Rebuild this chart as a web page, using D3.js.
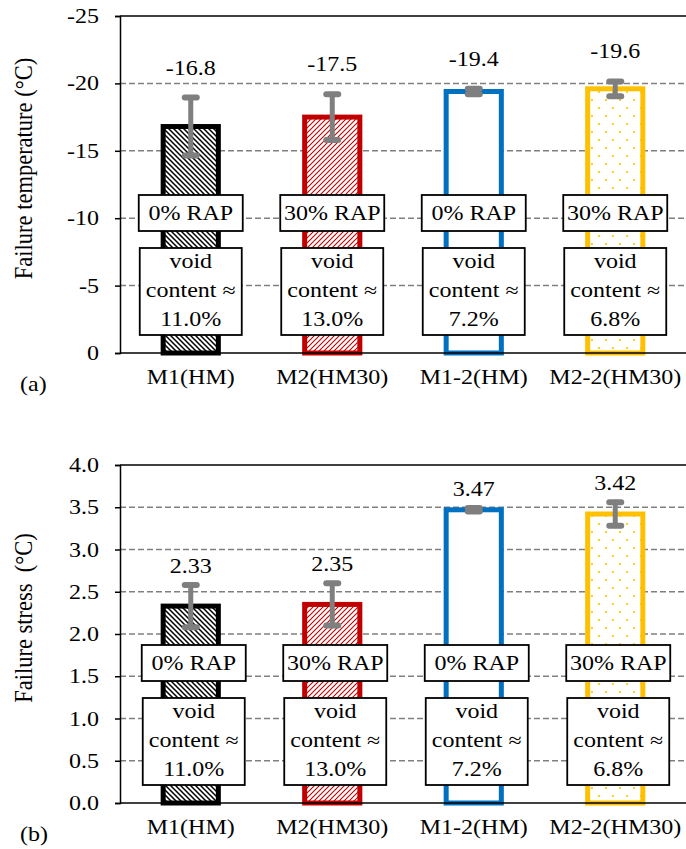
<!DOCTYPE html>
<html>
<head>
<meta charset="utf-8">
<script src="https://cdn.jsdelivr.net/npm/d3@7"></script>
<style>
  body { margin: 0; background: #fff; }
  text { font-family: "Liberation Serif", "Times New Roman", serif; fill: #000; }
</style>
</head>
<body>
<script>
// mixtures and their results
var categories = ["M1(HM)", "M2(HM30)", "M1-2(HM)", "M2-2(HM30)"];
var tempValues = [-16.8, -17.5, -19.4, -19.6];
var tempErrors = [2.15, 1.7, 0.2, 0.55];
var stressValues = [2.33, 2.35, 3.47, 3.42];
var stressErrors = [0.25, 0.25, 0.02, 0.14];
var rapLabels = ["0% RAP", "30% RAP", "0% RAP", "30% RAP"];
var voidLabels = ["11.0%", "13.0%", "7.2%", "6.8%"];
var tempTicks = [0, -5, -10, -15, -20, -25];
var stressTicks = [0, 0.5, 1.0, 1.5, 2.0, 2.5, 3.0, 3.5, 4.0];

var W = 686, H = 849;
var SX = 1.2; // the picture is stretched sideways a bit
var strokes = ["#000000", "#c00000", "#0070c0", "#ffc000"];
var fills = ["url(#hatchBlack)", "url(#hatchRed)", "#ffffff", "url(#dotsYellow)"];

var svg = d3.select("body").append("svg")
    .attr("width", W)
    .attr("height", H);

// fill patterns
var defs = svg.append("defs");
var p1 = defs.append("pattern").attr("id", "hatchBlack")
    .attr("patternUnits", "userSpaceOnUse").attr("width", 5).attr("height", 5);
p1.append("rect").attr("width", 5).attr("height", 5).attr("fill", "#fff");
p1.append("path").attr("d", "M-1,-1 L6,6 M-1,4 L1,6 M4,-1 L6,1")
    .attr("stroke", "#000").attr("stroke-width", 1.5);
var p2 = defs.append("pattern").attr("id", "hatchRed")
    .attr("patternUnits", "userSpaceOnUse").attr("width", 5).attr("height", 5);
p2.append("rect").attr("width", 5).attr("height", 5).attr("fill", "#fff");
p2.append("path").attr("d", "M-1,6 L6,-1 M-1,1 L1,-1 M4,6 L6,4")
    .attr("stroke", "#c00000").attr("stroke-width", 1.1);
var p3 = defs.append("pattern").attr("id", "dotsYellow")
    .attr("patternUnits", "userSpaceOnUse").attr("width", 14).attr("height", 16);
p3.append("rect").attr("width", 14).attr("height", 16).attr("fill", "#fff");
p3.append("circle").attr("cx", 4).attr("cy", 4).attr("r", 1.1).attr("fill", "#ffc000");
p3.append("circle").attr("cx", 11).attr("cy", 12).attr("r", 1.1).attr("fill", "#ffc000");

function addText(g, x, y, str, anchor, size) {
  return g.append("text")
      .attr("transform", "translate(" + x + "," + y + ") scale(" + SX + ",1)")
      .attr("text-anchor", anchor)
      .attr("font-size", size)
      .attr("xml:space", "preserve")
      .text(str);
}

// d3.format gives a unicode minus, the figure uses a plain hyphen
function fmt(spec) {
  var f = d3.format(spec);
  return function(v) { return f(v).replace("\u2212", "-"); };
}

var left = 120, right = 686;
var x = d3.scaleBand().domain(categories).range([left, right]).paddingInner(0.61).paddingOuter(0.305);

function drawPanel(opts) {
  var g = svg.append("g");
  var y = d3.scaleLinear().domain(opts.domain).range([opts.bottom, opts.top]);
  var base = y(0);

  // dashed grid
  g.selectAll(".grid").data(opts.ticks.slice(1, -1)).enter().append("line")
      .attr("x1", left).attr("x2", W)
      .attr("y1", function(d) { return y(d); }).attr("y2", function(d) { return y(d); })
      .attr("stroke", "#808080").attr("stroke-width", 1.5).attr("stroke-dasharray", "6,3");

  // top border line
  g.append("line").attr("x1", left).attr("x2", W)
      .attr("y1", y(opts.domain[1])).attr("y2", y(opts.domain[1]))
      .attr("stroke", "#000").attr("stroke-width", 1.5);

  // y axis
  var axis = d3.axisLeft(y).tickValues(opts.ticks).tickSize(5).tickFormat("");
  var ag = g.append("g").attr("transform", "translate(" + left + ",0)").call(axis);
  ag.select(".domain").attr("stroke", "#000").attr("stroke-width", 1.5);
  ag.selectAll(".tick line").attr("stroke", "#000").attr("stroke-width", 1.5);
  opts.ticks.forEach(function(t) {
    addText(g, left - 21, y(t) + 7, opts.tickFmt(t), "end", 20);
  });

  // bars
  var bw = x.bandwidth();
  g.selectAll(".bar").data(opts.values).enter().append("rect")
      .attr("x", function(d, i) { return x(categories[i]); })
      .attr("y", function(d) { return Math.min(y(d), base); })
      .attr("width", bw)
      .attr("height", function(d) { return Math.abs(base - y(d)); })
      .attr("fill", function(d, i) { return fills[i]; })
      .attr("stroke", function(d, i) { return strokes[i]; })
      .attr("stroke-width", 5);

  // x axis line at zero
  g.append("line").attr("x1", left).attr("x2", W).attr("y1", base).attr("y2", base)
      .attr("stroke", "#000").attr("stroke-width", 1.5);

  // error bars
  opts.values.forEach(function(v, i) {
    var cx = x(categories[i]) + bw / 2;
    var sign = v < 0 ? -1 : 1;
    var hi = y(v + sign * opts.errors[i]), lo = y(v - sign * opts.errors[i]);
    var eg = g.append("g").attr("stroke", "#7f7f7f").attr("stroke-linecap", "round");
    eg.append("line").attr("x1", cx).attr("x2", cx).attr("y1", hi).attr("y2", lo).attr("stroke-width", 5);
    eg.append("line").attr("x1", cx - 6).attr("x2", cx + 6).attr("y1", hi).attr("y2", hi).attr("stroke-width", 6);
    eg.append("line").attr("x1", cx - 6).attr("x2", cx + 6).attr("y1", lo).attr("y2", lo).attr("stroke-width", 6);
    addText(g, cx, hi - opts.labelGap, opts.valueFmt(v), "middle", 20);
  });

  // annotation boxes
  opts.values.forEach(function(v, i) {
    var cx = x(categories[i]) + bw / 2 + opts.boxShift;
    var bxw = 104;
    g.append("rect").attr("x", cx - bxw / 2).attr("y", base - 158).attr("width", bxw).attr("height", 36)
        .attr("fill", "#fff").attr("stroke", "#000").attr("stroke-width", 1.8);
    addText(g, cx, base - 133, rapLabels[i], "middle", 20);
    g.append("rect").attr("x", cx - bxw / 2 + 1).attr("y", base - 105).attr("width", bxw - 2).attr("height", 87)
        .attr("fill", "#fff").attr("stroke", "#000").attr("stroke-width", 1.8);
    addText(g, cx, base - 85, "void", "middle", 20);
    addText(g, cx, base - 56, "content \u2248", "middle", 20);
    addText(g, cx, base - 27, voidLabels[i], "middle", 20);
  });

  // category labels
  categories.forEach(function(c) {
    addText(g, x(c) + bw / 2, base + 31, c, "middle", 20);
  });

  // axis title and panel letter
  var mid = (opts.top + opts.bottom) / 2 - 16;
  g.append("text")
      .attr("transform", "translate(32," + mid + ") scale(1.1,1) rotate(-90)")
      .attr("text-anchor", "middle").attr("font-size", 22.5)
      .attr("xml:space", "preserve")
      .text(opts.title);
  addText(g, 20, opts.bottom + 38, opts.letter, "start", 20);
}

drawPanel({
  top: 16, bottom: 353, domain: [0, -25], ticks: tempTicks,
  values: tempValues, errors: tempErrors, labelGap: 23, boxShift: 0,
  tickFmt: fmt(".0f"), valueFmt: fmt(".1f"),
  title: "Failure temperature (\u00b0C)", letter: "(a)"
});

drawPanel({
  top: 465, bottom: 803, domain: [0, 4], ticks: stressTicks,
  values: stressValues, errors: stressErrors, labelGap: 12, boxShift: 3,
  tickFmt: fmt(".1f"), valueFmt: fmt(".2f"),
  title: "Failure stress  (\u00b0C)", letter: "(b)"
});
</script>
</body>
</html>
